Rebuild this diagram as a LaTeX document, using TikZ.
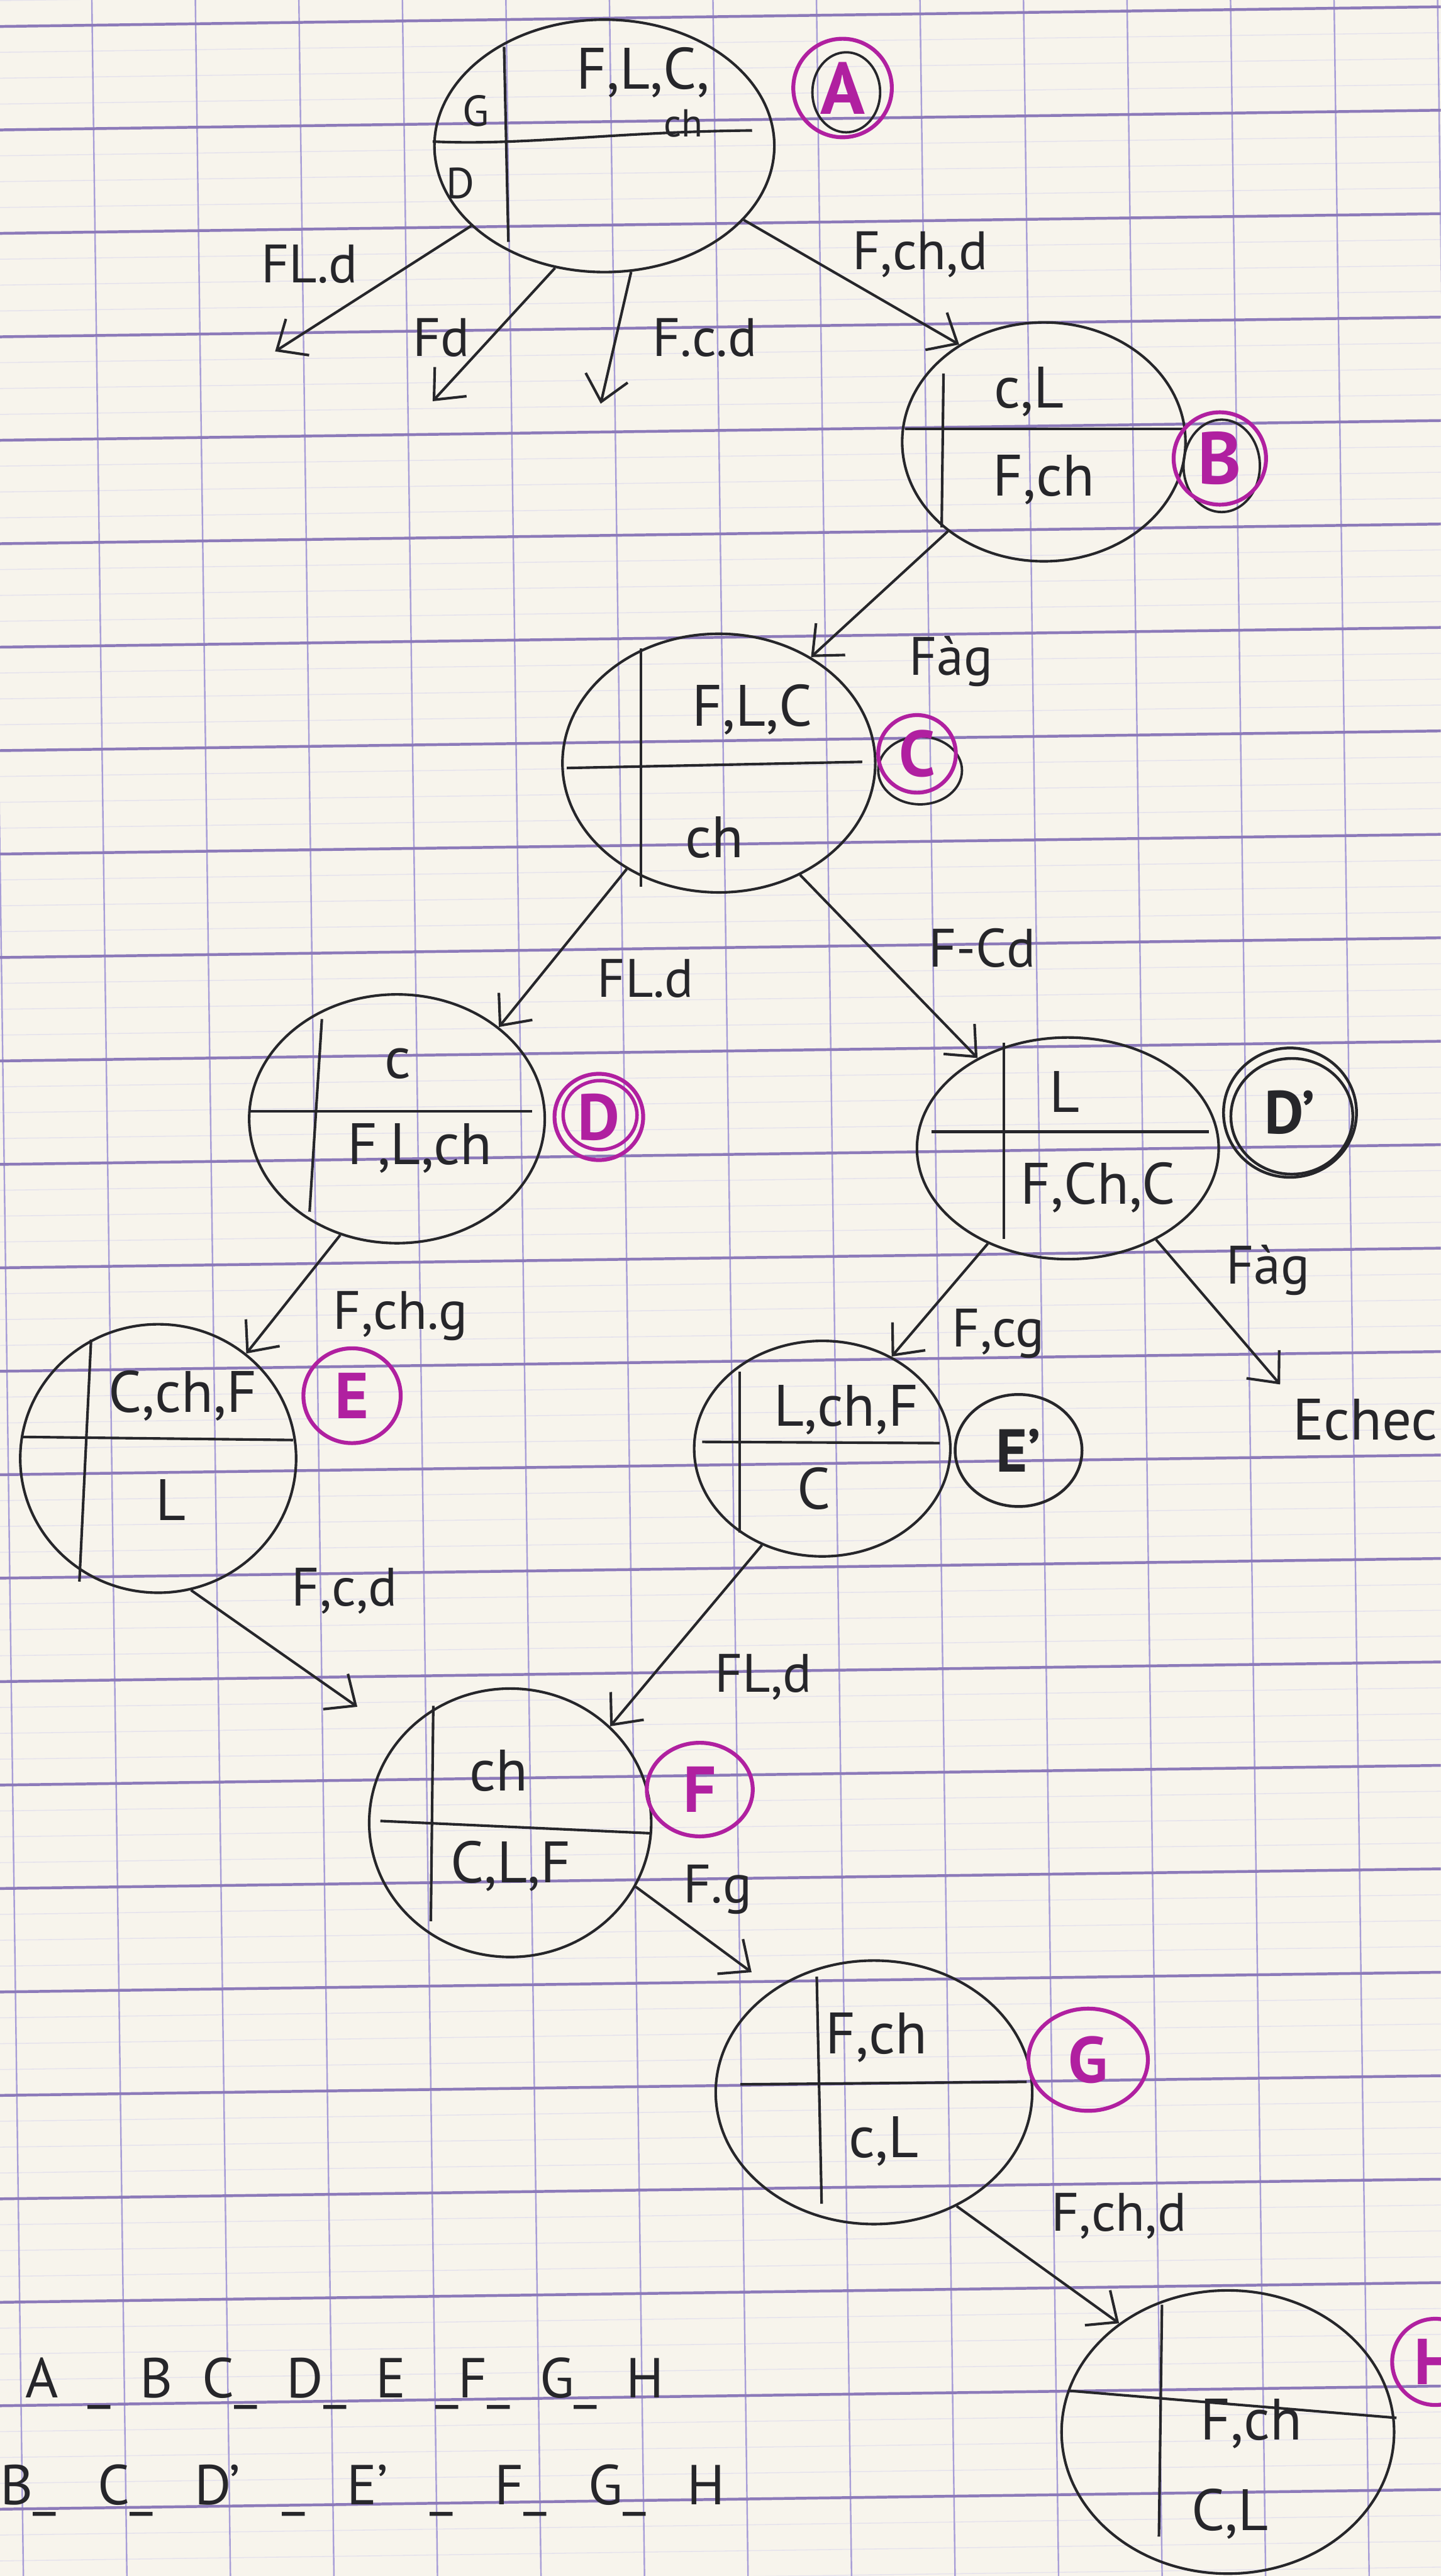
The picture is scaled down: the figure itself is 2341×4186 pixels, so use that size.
\documentclass[tikz,border=0pt]{standalone}
\usepackage{fontspec}
\setmainfont{PT Sans}
\usetikzlibrary{shapes.geometric,arrows.meta,calc}
\definecolor{paper}{RGB}{247,244,236}
\definecolor{ruleh}{RGB}{140,122,185}
\definecolor{rulev}{RGB}{168,158,215}
\definecolor{rulet}{RGB}{230,227,236}
\definecolor{ink}{RGB}{38,38,42}
\definecolor{mag}{RGB}{176,32,160}
\begin{document}
\begin{tikzpicture}[x=0.01cm,y=-0.01cm,
  state/.style={ellipse, draw=ink, line width=1.2pt, inner sep=0pt},
  part/.style={draw=ink, line width=1.2pt},
  txt/.style={font=\fontsize{27}{30}\selectfont, text=ink, inner sep=0pt},
  small/.style={font=\fontsize{20}{22}\selectfont, text=ink, inner sep=0pt},
  lab/.style={font=\fontsize{25}{28}\selectfont, text=ink, inner sep=0pt},
  mk/.style={ellipse, draw=mag, line width=1.8pt, text=mag, font=\fontsize{30}{32}\selectfont\bfseries, inner sep=0pt},
  mkb/.style={ellipse, draw=ink, line width=1.3pt, text=ink, font=\fontsize{28}{30}\selectfont\bfseries, inner sep=0pt},
  ring/.style={ellipse, line width=1.1pt, inner sep=0pt},
  arr/.style={draw=ink, line width=1.2pt, -{Straight Barb[length=0.4cm,width=0.7cm]}}]
\useasboundingbox (0,0) rectangle (2341,4186);
\fill[paper] (0,0) rectangle (2341,4186);
\begin{scope}
\clip (0,0) rectangle (2341,4186);
\foreach \j in {-1,...,99} {\draw[rulet, line width=0.45pt] (0,{43+42.025*\j}) -- (2341,{11+42.025*\j});}
\foreach \k in {0,...,14} {\draw[rulev, line width=0.7pt] ({-19+168.2*\k},0) -- ({38+168.2*\k},4186);}
\foreach \k in {0,...,24} {\draw[ruleh, line width=1.3pt] (0,{43+168.1*\k}) -- (2341,{11+168.1*\k});}
\end{scope}

% ---------- states ----------
\node[state, minimum width=5.52cm, minimum height=4.1cm] (A) at (982,237) {};
\draw[part] (819,76) -- (826,393);
\draw[part] (703,230) .. controls (850,237) and (1000,214) .. (1222,212);
\node[txt, align=center] (At) at (1045,150)
  {F,L,C,\\[-8pt]\hspace*{1.3cm}{\fontsize{18}{20}\selectfont ch}};
\node[small] (AG) at (773,180) {G};
\node[small] (AD) at (748,298) {D};

\node[state, minimum width=4.6cm, minimum height=3.88cm] (B) at (1696,718) {};
\draw[part] (1533,607) -- (1530,857);
\draw[part] (1471,697) -- (1925,697);
\node[txt] (Bt) at (1672,637) {c,L};
\node[txt] (Bb) at (1696,780) {F,ch};

\node[state, minimum width=5.08cm, minimum height=4.2cm] (C) at (1168,1240) {};
\draw[part] (1041,1054) -- (1041,1441);
\draw[part] (921,1248) -- (1401,1238);
\node[txt] (Ct) at (1222,1153) {F,L,C};
\node[txt] (Cb) at (1161,1361) {ch};

\node[state, minimum width=4.8cm, minimum height=4.04cm] (D) at (645,1818) {};
\draw[part] (523,1656) -- (503,1969);
\draw[part] (406,1806) -- (865,1806);
\node[txt] (Dt) at (646,1728) {c};
\node[txt] (Db) at (682,1866) {F,L,ch};

\node[state, minimum width=4.9cm, minimum height=3.6cm] (Dp) at (1735,1866) {};
\draw[part] (1631,1694) -- (1631,2013);
\draw[part] (1514,1839) -- (1964,1839);
\node[txt] (Dpt) at (1730,1774) {L};
\node[txt] (Dpb) at (1784,1930) {F,Ch,C};

\node[state, minimum width=4.48cm, minimum height=4.36cm] (E) at (257,2370) {};
\draw[part] (148,2177) -- (129,2570);
\draw[part] (38,2335) -- (476,2340);
\node[txt] (Et) at (297,2268) {C,ch,F};
\node[txt] (Eb) at (277,2437) {L};

\node[state, minimum width=4.16cm, minimum height=3.5cm] (Ep) at (1336,2354) {};
\draw[part] (1202,2229) -- (1202,2490);
\draw[part] (1141,2343) -- (1527,2345);
\node[txt] (Ept) at (1375,2291) {L,ch,F};
\node[txt] (Epb) at (1322,2419) {C};

\node[state, minimum width=4.58cm, minimum height=4.36cm] (F) at (829,2962) {};
\draw[part] (704,2772) -- (700,3122);
\draw[part] (618,2959) -- (1057,2979);
\node[txt] (Ft) at (810,2877) {ch};
\node[txt] (Fb) at (830,3033) {C,L,F};

\node[state, minimum width=5.14cm, minimum height=4.28cm] (G) at (1420,3400) {};
\draw[part] (1327,3212) -- (1335,3581);
\draw[part] (1203,3387) -- (1668,3383);
\node[txt] (Gt) at (1424,3311) {F,ch};
\node[txt] (Gb) at (1436,3480) {c,L};

\node[state, minimum width=5.4cm, minimum height=4.6cm] (H) at (1995,3952) {};
\draw[part] (1888,3745) -- (1883,4122);
\draw[part] (1738,3885) -- (2269,3929);
\node[txt] (Ht) at (2033,3939) {F,ch};
\node[txt] (Hb) at (1998,4085) {C,L};

% ---------- letter marks ----------
\node[ring, draw=ink, minimum width=1.1cm, minimum height=1.3cm] (lAb) at (1375,150) {};
\node[mk, minimum width=1.6cm, minimum height=1.6cm, font=\fontsize{34}{36}\selectfont\bfseries] (lA) at (1369,143) {A};
\node[ring, draw=ink, minimum width=1.24cm, minimum height=1.5cm] (lBb) at (1985,757) {};
\node[mk, minimum width=1.5cm, minimum height=1.5cm, font=\fontsize{34}{36}\selectfont\bfseries] (lB) at (1982,745) {B};
\node[ring, draw=ink, minimum width=1.36cm, minimum height=1.1cm] (lCb) at (1495,1252) {};
\node[mk, minimum width=1.26cm, minimum height=1.26cm] (lC) at (1490,1225) {C};
\node[ring, draw=mag, line width=1.6pt, minimum width=1.2cm, minimum height=1.12cm] (lDi) at (975,1812) {};
\node[mk, minimum width=1.44cm, minimum height=1.4cm] (lD) at (973,1815) {D};
\node[ring, draw=ink, line width=1.3pt, minimum width=1.98cm, minimum height=1.88cm] (lDpi) at (2099,1814) {};
\node[mkb, minimum width=2.16cm, minimum height=2.1cm] (lDp) at (2096,1808) {D'};
\node[mk, minimum width=1.58cm, minimum height=1.54cm] (lE) at (572,2268) {E};
\node[mkb, minimum width=2.06cm, minimum height=1.82cm] (lEp) at (1655,2357) {E'};
\node[mk, minimum width=1.72cm, minimum height=1.52cm] (lF) at (1137,2908) {F};
\node[mk, minimum width=1.94cm, minimum height=1.66cm] (lG) at (1768,3347) {G};
\node[mk, minimum width=1.4cm, minimum height=1.4cm] (lH) at (2332,3838) {H};

% ---------- free ends ----------
\coordinate (a1) at (447,571);
\coordinate (a2) at (703,652);
\coordinate (a3) at (976,656);
\node[txt] (Echec) at (2218,2307) {Echec};

% ---------- connectors ----------
\draw[arr] (A.211) -- (a1);
\draw[arr] (A.248) -- (a2);
\draw[arr] (A.282) -- (a3);
\draw[arr] (A.332) -- (B.131);
\draw[arr] (B.223) -- (C.49);
\draw[arr] (C.229) -- (D.42);
\draw[arr] (C.306) -- (Dp.135);
\draw[arr] (D.244) -- (E.50);
\draw[arr] (Dp.230) -- (Ep.53);
\draw[arr, shorten >=0.3cm] (Dp.314) -- (Echec.north west);
\draw[arr, shorten >=0.85cm] (E.284) -- (F.142);
\draw[arr] (Ep.238) -- (F.44);
\draw[arr, shorten >=0.45cm] (F.333) -- (G.134);
\draw[arr] (G.306) -- (H.135);

% ---------- connector labels ----------
\node[lab] (l1) at (503,429) {FL.d};
\node[lab] (l2) at (717,549) {Fd};
\node[lab] (l3) at (1145,549) {F.c.d};
\node[lab] (l4) at (1495,414) {F,ch,d};
\node[lab] (l5) at (1545,1075) {Fàg};
\node[lab] (l6) at (1049,1590) {FL.d};
\node[lab] (l7) at (1596,1540) {F-Cd};
\node[lab] (l8) at (651,2138) {F,ch.g};
\node[lab] (l9) at (1622,2167) {F,cg};
\node[lab] (l10) at (2060,2064) {Fàg};
\node[lab] (l11) at (560,2585) {F,c,d};
\node[lab] (l12) at (1240,2725) {FL,d};
\node[lab] (l13) at (1166,3070) {F.g};
\node[lab] (l14) at (1818,3601) {F,ch,d};

% ---------- sequences ----------
\node[anchor=west, inner sep=0pt, text=ink, font=\fontsize{26}{28}\selectfont] (seq1) at (41,3873)
  {\makebox[10.37cm][s]{A\hfill\_\hfill B\hfill C\_\hfill D\_\hfill E\hfill\_F\_\hfill G\_\hfill H}};
\node[anchor=west, inner sep=0pt, text=ink, font=\fontsize{26}{28}\selectfont] (seq2) at (0,4047)
  {\makebox[11.77cm][s]{B\_\hfill C\_\hfill D'\hfill\_\hfill E'\hfill\_\hfill F\_\hfill G\_\hfill H}};
\end{tikzpicture}
\end{document}
